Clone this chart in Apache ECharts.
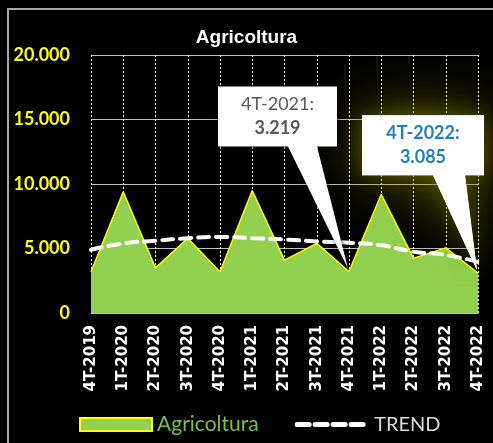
<!DOCTYPE html>
<html>
<head>
<meta charset="utf-8">
<script src="https://cdn.jsdelivr.net/npm/echarts@6/dist/echarts.min.js"></script>
<style>
  html, body { margin: 0; padding: 0; background: #000; }
  #chart { width: 493px; height: 443px; }
</style>
</head>
<body>
<div id="chart"></div>
<script>
  var categories = ['4T-2019', '1T-2020', '2T-2020', '3T-2020', '4T-2020', '1T-2021', '2T-2021', '3T-2021', '4T-2021', '1T-2022', '2T-2022', '3T-2022', '4T-2022']
  var agricoltura = [3200, 9400, 3500, 5800, 3200, 9500, 4100, 5400, 3219, 9200, 4250, 5050, 3085]
  var trend = [4900, 5400, 5600, 5800, 5900, 5800, 5700, 5550, 5450, 5250, 4750, 4500, 3950]
  var callouts = [
    { index: 8, title: '4T-2021:', value: '3.219', color: '#595959', titleWeight: 'normal' },
    { index: 12, title: '4T-2022:', value: '3.085', color: '#1f7fc9', titleWeight: 'bold' }
  ]

  function fmt (v) {
    return String(v).replace(/\B(?=(\d{3})+(?!\d))/g, '.')
  }

  var chart = echarts.init(document.getElementById('chart'))
  chart.setOption({
    backgroundColor: '#000',
    animation: false,
    title: {
      text: 'Agricoltura',
      left: 'center',
      top: 23,
      textStyle: { color: '#fff', fontFamily: 'Liberation Sans', fontWeight: 'bold', fontSize: 19 }
    },
    grid: { left: 91, right: 15, top: 55, bottom: 130 },
    legend: {
      left: 74,
      top: 409,
      itemWidth: 72,
      itemHeight: 13,
      itemGap: 36,
      data: [
        { name: 'Agricoltura', icon: 'rect', itemStyle: { color: '#92d050', borderColor: '#ffff00', borderWidth: 2 },
          textStyle: { color: '#74c044', fontFamily: 'Lato', fontSize: 21 } },
        { name: 'TREND', itemStyle: { opacity: 0 }, lineStyle: { width: 5, type: [12, 6], cap: 'round' },
          textStyle: { color: '#d9d9d9', fontFamily: 'Lato', fontSize: 20 } }
      ]
    },
    xAxis: {
      type: 'category',
      data: categories,
      boundaryGap: false,
      axisLine: { lineStyle: { color: '#bfbfbf', width: 1 } },
      axisTick: { show: false },
      axisLabel: {
        rotate: 90,
        interval: 0,
        margin: 12,
        color: '#fff',
        fontFamily: 'DejaVu Sans',
        fontWeight: 'bold',
        fontSize: 15
      },
      splitLine: { show: true, interval: 0, lineStyle: { color: '#fff', type: [2, 2], width: 1 } }
    },
    yAxis: {
      type: 'value',
      min: 0,
      max: 20000,
      interval: 5000,
      axisLine: { show: false },
      axisTick: { show: false },
      axisLabel: {
        margin: 21,
        color: '#ffff00',
        fontFamily: 'Lato',
        fontWeight: 'bold',
        fontSize: 18,
        formatter: fmt
      },
      splitLine: { lineStyle: { color: '#bfbfbf', width: 1 } }
    },
    series: [
      {
        name: 'Agricoltura',
        type: 'line',
        data: agricoltura,
        symbol: 'none',
        lineStyle: { color: '#ffff00', width: 1.5 },
        itemStyle: { color: '#92d050' },
        areaStyle: { color: '#92d050', opacity: 1 },
        z: 2
      },
      {
        name: 'TREND',
        type: 'line',
        data: trend,
        symbol: 'none',
        smooth: true,
        itemStyle: { color: '#fff' },
        lineStyle: { color: '#fff', width: 4, type: [11, 7], cap: 'round' },
        z: 3
      }
    ]
  })

  // callouts + frame, placed from the data points
  var elements = [{
    type: 'polyline',
    shape: { points: [[8, 443], [8, 9], [493, 9]] },
    style: { stroke: '#a6a6a6', lineWidth: 2, fill: null },
    silent: true
  }]
  var boxes = [
    { dxL: -131, dxR: -12, dyT: -185, dyB: -125, tL: -61, tR: -32, glow: false },
    { dxL: -116, dxR: 6, dyT: -158, dyB: -98, tL: -45, tR: -13, glow: true }
  ]
  callouts.forEach(function (c, i) {
    var p = chart.convertToPixel({ seriesIndex: 0 }, [c.index, agricoltura[c.index]])
    var b = boxes[i]
    var L = p[0] + b.dxL, R = p[0] + b.dxR, T = p[1] + b.dyT, B = p[1] + b.dyB
    var cx = (L + R) / 2
    var pts = [[L, T], [R, T], [R, B], [p[0] + b.tR, B], [p[0] - 1, p[1] - 3], [p[0] + b.tL, B], [L, B]]
    if (b.glow) {
      // soft yellow halo
      elements.push({
        type: 'polygon', z: 19, silent: true,
        shape: { points: pts },
        style: { fill: '#fff', shadowBlur: 60, shadowColor: 'rgba(170,170,0,0.6)' }
      })
    }
    elements.push({
      type: 'polygon',
      z: 20,
      shape: { points: pts },
      style: b.glow
        ? { fill: '#fff', shadowBlur: 20, shadowColor: 'rgba(110,110,0,0.5)' }
        : { fill: '#fff', shadowBlur: 4, shadowColor: 'rgba(0,0,0,0.7)', shadowOffsetX: 1, shadowOffsetY: 1 }
    })
    elements.push({
      type: 'text', z: 21, x: cx, y: T + 18,
      style: { text: c.title, fill: c.color, font: c.titleWeight + ' 18px Lato', textAlign: 'center', textVerticalAlign: 'middle' }
    })
    elements.push({
      type: 'text', z: 21, x: cx, y: T + 42,
      style: { text: c.value, fill: c.color, font: 'bold 18px Lato', textAlign: 'center', textVerticalAlign: 'middle' }
    })
  })
  chart.setOption({ graphic: { elements: elements } })
</script>
</body>
</html>
